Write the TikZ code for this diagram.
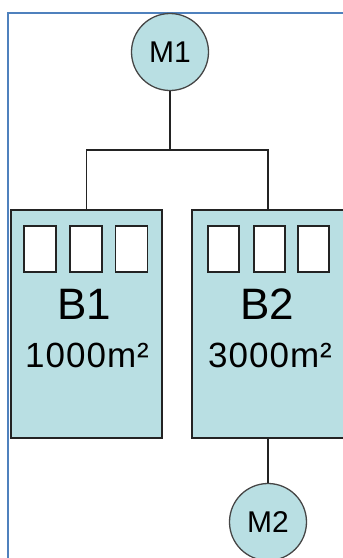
\documentclass[tikz,border=0pt]{standalone}
\usepackage{fontspec}
\setmainfont{Liberation Sans}
\definecolor{frameblue}{RGB}{79,129,189}
\definecolor{aqua}{RGB}{185,223,227}
\definecolor{edge}{RGB}{35,35,35}
\definecolor{ringgray}{RGB}{70,70,70}
\begin{document}
\begin{tikzpicture}[x=1pt,y=-1pt,
  machine/.style={circle,draw=ringgray,line width=1.3pt,fill=aqua,minimum size=77pt,inner sep=0pt,font=\fontsize{30}{30}\selectfont},
  building/.style={rectangle,draw=edge,line width=1.6pt,fill=aqua,minimum height=228pt,inner sep=0pt},
  window/.style={rectangle,draw=edge,line width=1.3pt,fill=white,minimum width=32pt,minimum height=46pt,inner sep=0pt},
  bname/.style={font=\fontsize{44}{44}\selectfont,inner sep=0pt,anchor=base},
  barea/.style={font=\fontsize{35}{35}\selectfont\addfontfeatures{LetterSpace=3},inner sep=0pt,anchor=base},
  wire/.style={draw=edge,line width=1.6pt}]
\useasboundingbox (0,0) rectangle (343,558);
\begin{scope}
\clip (0,0) rectangle (343,558);
% outer frame (only the top and left edges fall inside the page)
\draw[frameblue,line width=2pt] (8,565) -- (8,12.5) -- (350,12.5);

% machines
\node[machine] (m1) at (170,52) {M1};
\node[machine] (m2) at (268,522) {M2};

% buildings
\node[building,minimum width=151pt] (b1) at (86.5,324) {};
\node[building,minimum width=152pt] (b2) at (268,324) {};

% windows
\node[window] (w11) at (40,249) {};
\node[window] (w12) at (86,249) {};
\node[window] (w13) at (131.5,249) {};
\node[window,minimum width=31pt] (w21) at (223.5,249) {};
\node[window,minimum width=31pt] (w22) at (269.5,249) {};
\node[window,minimum width=31pt] (w23) at (313.5,249) {};

% labels
\node[bname] (n1) at (84,319) {B1};
\node[bname] (n2) at (267,319) {B2};
\node[barea] (a1) at (87,367) {1000m²};
\node[barea] (a2) at (270,367) {3000m²};

% connections
\coordinate (j) at (170,150);
\draw[wire] (m1.south) -- (j);
\draw[wire] (b1.north) |- (j) -| (b2.north);
\draw[wire] (b2.south) -- (m2.north);
\end{scope}
\end{tikzpicture}
\end{document}
